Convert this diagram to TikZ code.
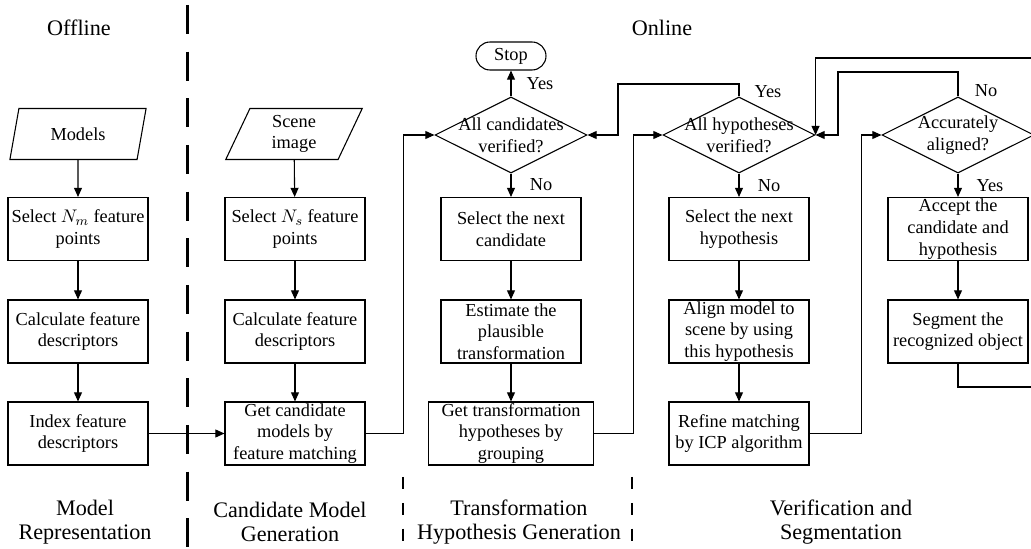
\documentclass[tikz,border=0pt]{standalone}
\usepackage{fontspec}
\setmainfont{Liberation Serif}
\usetikzlibrary{shapes.geometric, shapes.misc, arrows.meta}
\tikzset{>={Triangle[length=5.5pt,width=4.8pt]}}
\tikzset{
  box/.style={draw, rectangle, minimum width=84pt, minimum height=37.8pt, inner xsep=2pt, inner ysep=0pt, align=center},
  io/.style={draw, trapezium, trapezium left angle=72, trapezium right angle=108, trapezium stretches=true, minimum width=82pt, minimum height=30.6pt, inner sep=0pt, align=center},
  decide/.style={draw, diamond, minimum width=91.2pt, minimum height=45.6pt, inner sep=0pt},
  ends/.style={draw, rounded rectangle, minimum width=42pt, minimum height=16.8pt, inner sep=0pt},
  lbl/.style={inner sep=0pt},
  phase/.style={font=\fontsize{13.3}{14.4}\selectfont, align=center, inner sep=0pt}
}

\begin{document}
\begin{tikzpicture}[x=0.6pt, y=-0.6pt, line width=0.65pt, font=\fontsize{11}{13}\selectfont]
    \useasboundingbox (0,0) rectangle (1031,549);
    \clip (0,0) rectangle (1031,549);
    % phases
    \node[phase] (offline) at (79,28) {Offline};
    \node[phase] (online) at (662,28) {Online};
    \node[phase] (rep) at (85,522) {Model\\Representation};
    \node[phase] (gen) at (290,522) {Candidate Model\\Generation};
    \node[phase] (hyp) at (519,522) {Transformation\\Hypothesis Generation};
    \node[phase] (ver) at (841,522) {Verification and\\Segmentation};
    \draw[line width=1.8pt, dash pattern=on 17.4pt off 10.6pt] (187,5) -- (187,549);
    \draw[line width=0.9pt, dash pattern=on 7.5pt off 8pt] (403,477) -- (403,549);
    \draw[line width=0.9pt, dash pattern=on 7.5pt off 8pt] (632,477) -- (632,549);
    % offline column
    \node[io] (models) at (78,134) {Models};
    \node[box] (selm) at (78,229) {Select $N_m$ feature\\points};
    \node[box] (calcm) at (78,331.5) {Calculate feature\\descriptors};
    \node[box] (index) at (78,433.5) {Index feature\\descriptors};
    % candidate generation
    \node[io] (scene) at (294,134) {Scene\\image};
    \node[box] (sels) at (295,229) {Select $N_s$ feature\\points};
    \node[box] (calcs) at (295,331.5) {Calculate feature\\descriptors};
    \node[box] (cand) at (295,433.5) {Get candidate\\models by\\feature matching};
    % hypothesis generation
    \node[ends] (stop) at (511,56) {Stop};
    \node[decide] (allc) at (511,135) {};
    \node (allctxt) at (allc) [align=center] {All candidates\\verified?};
    \node[box] (nextc) at (511,229) {Select the next\\candidate};
    \node[box] (est) at (511,331.5) {Estimate the\\plausible\\transformation};
    \node[box, minimum width=99pt] (group) at (511,433.5) {Get transformation\\hypotheses by\\grouping};
    % verification
    \node[decide] (allh) at (739,135) {};
    \node (allhtxt) at (allh) [align=center] {All hypotheses\\verified?};
    \node[box] (nexth) at (739,229) {Select the next\\hypothesis};
    \node[box] (align) at (739,331.5) {Align model to\\scene by using\\this hypothesis};
    \node[box] (icp) at (739,433.5) {Refine matching\\by ICP algorithm};
    \node[decide] (acc) at (958,135) {};
    \node (acctxt) at (acc) [align=center] {Accurately\\aligned?};
    \node[box] (accept) at (958,229) {Accept the\\candidate and\\hypothesis};
    \node[box] (seg) at (958,331.5) {Segment the\\recognized object};
    \coordinate (back) at (1045,387);
    \coordinate (over) at (1045,58);
    % answers
    \node[lbl] (yesc) at (540,84) {Yes};
    \node[lbl] (noc) at (541,185) {No};
    \node[lbl] (yesh) at (768,92) {Yes};
    \node[lbl] (noh) at (769,186) {No};
    \node[lbl] (noa) at (986,91) {No};
    \node[lbl] (yesa) at (990,186) {Yes};
    % connectors
    \draw[->] (models) -- (selm);
    \draw[->] (selm) -- (calcm);
    \draw[->] (calcm) -- (index);
    \draw[->] (index) -- (cand);
    \draw[->] (scene) -- (sels);
    \draw[->] (sels) -- (calcs);
    \draw[->] (calcs) -- (cand);
    \draw[->] (cand.east) -- ++(38,0) |- (allc.west);
    \draw[->] (allc.north) -- (stop.south);
    \draw[->] (allc.south) -- (nextc.north);
    \draw[->] (nextc) -- (est);
    \draw[->] (est) -- (group);
    \draw[->] (group.east) -- ++(39,0) |- (allh.west);
    \draw[->] (allh.north) |- (618,84) |- (allc.east);
    \draw[->] (allh.south) -- (nexth.north);
    \draw[->] (nexth) -- (align);
    \draw[->] (align) -- (icp);
    \draw[->] (icp.east) -- ++(52,0) |- (acc.west);
    \draw[->] (acc.north) |- (838,72) |- (allh.east);
    \draw[->] (acc.south) -- (accept.north);
    \draw[->] (accept) -- (seg);
    \draw[->] (seg.south) |- (back) -- (over) -| (allh.east);
\end{tikzpicture}
\end{document}
